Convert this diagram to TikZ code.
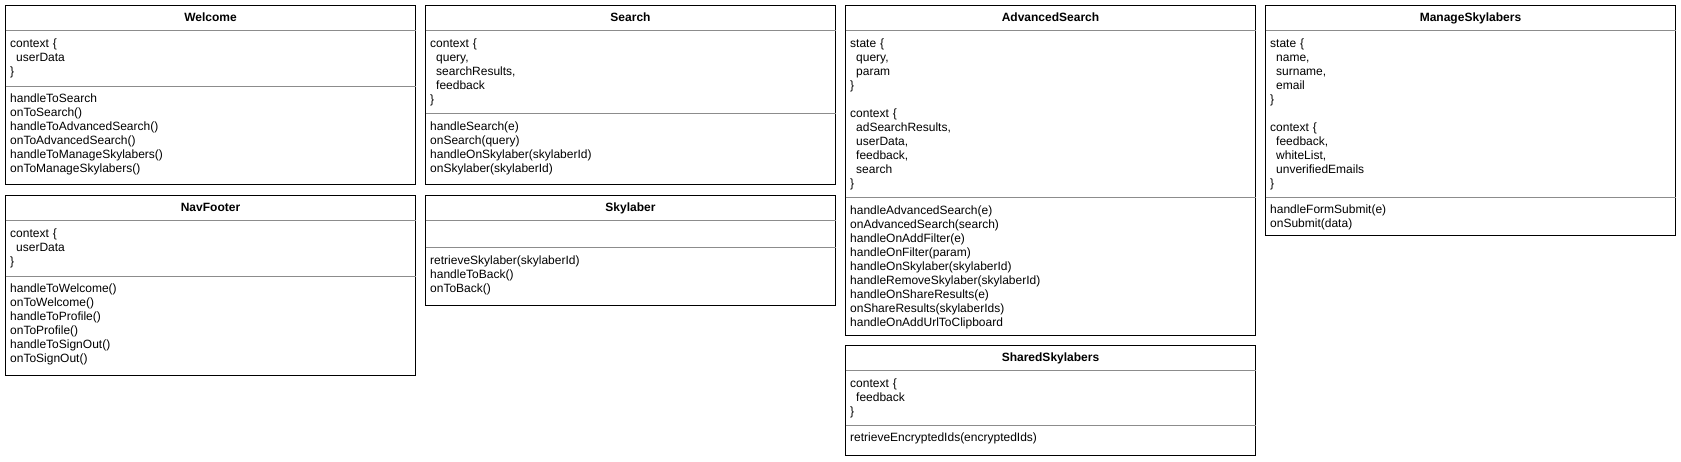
\documentclass[tikz,border=0pt]{standalone}
\usepackage{fontspec}
\setmainfont{Liberation Sans}
\usepackage{xcolor}
\usepackage{tikz}
\newcommand{\fieldindent}{\hspace*{6pt}}

\begin{document}
\begin{tikzpicture}[x=1pt, y=-1pt,
    classbox/.style={draw=black, line width=1pt, anchor=north west, minimum width=410pt, inner sep=0pt, outer sep=0pt},
    classtitle/.style={anchor=base, inner sep=0pt, font=\fontsize{12}{14}\selectfont\bfseries},
    classtext/.style={anchor=base west, align=left, text width=400pt, inner sep=0pt, font=\fontsize{12}{14}\selectfont},
    classline/.style={draw=black!45, line width=1pt}]
    \useasboundingbox (0,0) rectangle (1681,461);

    % Welcome
    \node[classbox, minimum height=179pt] (welcome) at (5.5,5.5) {};
    \node[classtitle] (welcome-title) at ([yshift=-16pt]welcome.north) {Welcome};
    \draw[classline] ([yshift=-25pt]welcome.north west) -- ([yshift=-25pt]welcome.north east);
    \draw[classline] ([yshift=-80.5pt]welcome.north west) -- ([yshift=-80.5pt]welcome.north east);
    \node[classtext] (welcome-attr) at ([xshift=4.5pt, yshift=-41.5pt]welcome.north west) {context \{\\\fieldindent userData\\\}};
    \node[classtext] (welcome-ops) at ([xshift=4.5pt, yshift=-97pt]welcome.north west) {handleToSearch\\onToSearch()\\handleToAdvancedSearch()\\onToAdvancedSearch()\\handleToManageSkylabers()\\onToManageSkylabers()};

    % NavFooter
    \node[classbox, minimum height=180pt] (navfooter) at (5.5,195.5) {};
    \node[classtitle] (navfooter-title) at ([yshift=-16pt]navfooter.north) {NavFooter};
    \draw[classline] ([yshift=-25pt]navfooter.north west) -- ([yshift=-25pt]navfooter.north east);
    \draw[classline] ([yshift=-80.5pt]navfooter.north west) -- ([yshift=-80.5pt]navfooter.north east);
    \node[classtext] (navfooter-attr) at ([xshift=4.5pt, yshift=-41.5pt]navfooter.north west) {context \{\\\fieldindent userData\\\}};
    \node[classtext] (navfooter-ops) at ([xshift=4.5pt, yshift=-97pt]navfooter.north west) {handleToWelcome()\\onToWelcome()\\handleToProfile()\\onToProfile()\\handleToSignOut()\\onToSignOut()};

    % Search
    \node[classbox, minimum height=179pt] (search) at (425.5,5.5) {};
    \node[classtitle] (search-title) at ([yshift=-16pt]search.north) {Search};
    \draw[classline] ([yshift=-25pt]search.north west) -- ([yshift=-25pt]search.north east);
    \draw[classline] ([yshift=-108pt]search.north west) -- ([yshift=-108pt]search.north east);
    \node[classtext] (search-attr) at ([xshift=4.5pt, yshift=-41.5pt]search.north west) {context \{\\\fieldindent query,\\\fieldindent searchResults,\\\fieldindent feedback\\\}};
    \node[classtext] (search-ops) at ([xshift=4.5pt, yshift=-124.5pt]search.north west) {handleSearch(e)\\onSearch(query)\\handleOnSkylaber(skylaberId)\\onSkylaber(skylaberId)};

    % Skylaber
    \node[classbox, minimum height=109.5pt] (skylaber) at (425.5,195.5) {};
    \node[classtitle] (skylaber-title) at ([yshift=-16pt]skylaber.north) {Skylaber};
    \draw[classline] ([yshift=-25pt]skylaber.north west) -- ([yshift=-25pt]skylaber.north east);
    \draw[classline] ([yshift=-52pt]skylaber.north west) -- ([yshift=-52pt]skylaber.north east);
    \node[classtext] (skylaber-ops) at ([xshift=4.5pt, yshift=-68.5pt]skylaber.north west) {retrieveSkylaber(skylaberId)\\handleToBack()\\onToBack()};

    % AdvancedSearch
    \node[classbox, minimum height=329.5pt] (advsearch) at (845.5,5.5) {};
    \node[classtitle] (advsearch-title) at ([yshift=-16pt]advsearch.north) {AdvancedSearch};
    \draw[classline] ([yshift=-25pt]advsearch.north west) -- ([yshift=-25pt]advsearch.north east);
    \draw[classline] ([yshift=-192pt]advsearch.north west) -- ([yshift=-192pt]advsearch.north east);
    \node[classtext] (advsearch-attr) at ([xshift=4.5pt, yshift=-41.5pt]advsearch.north west) {state \{\\\fieldindent query,\\\fieldindent param\\\}\\[14pt]context \{\\\fieldindent adSearchResults,\\\fieldindent userData,\\\fieldindent feedback,\\\fieldindent search\\\}};
    \node[classtext] (advsearch-ops) at ([xshift=4.5pt, yshift=-208.5pt]advsearch.north west) {handleAdvancedSearch(e)\\onAdvancedSearch(search)\\handleOnAddFilter(e)\\handleOnFilter(param)\\handleOnSkylaber(skylaberId)\\handleRemoveSkylaber(skylaberId)\\handleOnShareResults(e)\\onShareResults(skylaberIds)\\handleOnAddUrlToClipboard};

    % SharedSkylabers
    \node[classbox, minimum height=109.5pt] (shared) at (845.5,345.5) {};
    \node[classtitle] (shared-title) at ([yshift=-16pt]shared.north) {SharedSkylabers};
    \draw[classline] ([yshift=-25pt]shared.north west) -- ([yshift=-25pt]shared.north east);
    \draw[classline] ([yshift=-79.5pt]shared.north west) -- ([yshift=-79.5pt]shared.north east);
    \node[classtext] (shared-attr) at ([xshift=4.5pt, yshift=-41.5pt]shared.north west) {context \{\\\fieldindent feedback\\\}};
    \node[classtext] (shared-ops) at ([xshift=4.5pt, yshift=-96pt]shared.north west) {retrieveEncryptedIds(encryptedIds)};

    % ManageSkylabers
    \node[classbox, minimum height=229.5pt] (manage) at (1265.5,5.5) {};
    \node[classtitle] (manage-title) at ([yshift=-16pt]manage.north) {ManageSkylabers};
    \draw[classline] ([yshift=-25pt]manage.north west) -- ([yshift=-25pt]manage.north east);
    \draw[classline] ([yshift=-191.5pt]manage.north west) -- ([yshift=-191.5pt]manage.north east);
    \node[classtext] (manage-attr) at ([xshift=4.5pt, yshift=-41.5pt]manage.north west) {state \{\\\fieldindent name,\\\fieldindent surname,\\\fieldindent email\\\}\\[14pt]context \{\\\fieldindent feedback,\\\fieldindent whiteList,\\\fieldindent unverifiedEmails\\\}};
    \node[classtext] (manage-ops) at ([xshift=4.5pt, yshift=-208pt]manage.north west) {handleFormSubmit(e)\\onSubmit(data)};
\end{tikzpicture}
\end{document}
